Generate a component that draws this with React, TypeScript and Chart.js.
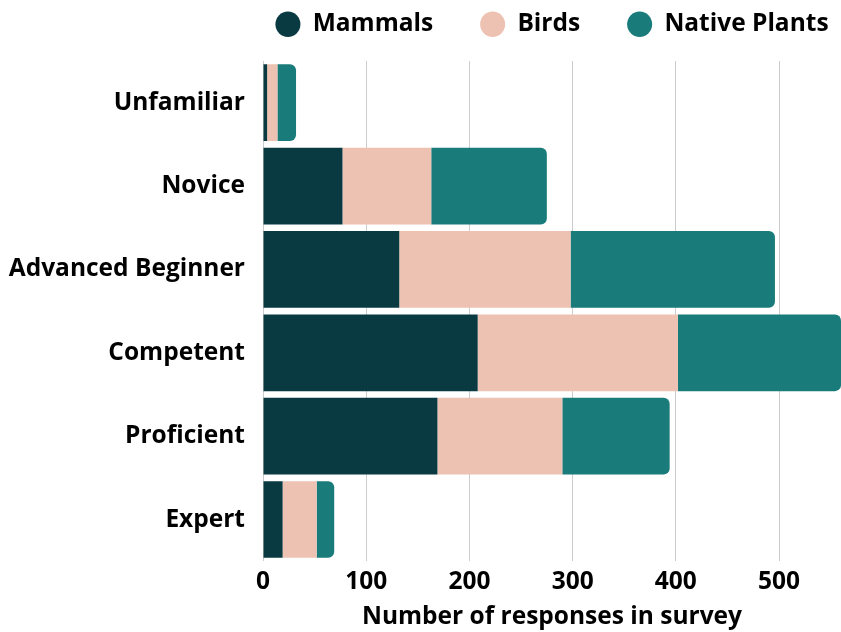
import React, { useEffect, useRef } from "react";
import { Chart, registerables } from "chart.js";

Chart.register(...registerables);

const categories = ["Unfamiliar", "Novice", "Advanced Beginner", "Competent", "Proficient", "Expert"];
const mammals = [4, 77, 132, 208, 169, 19];
const birds = [10, 86, 166, 194, 121, 33];
const nativePlants = [18, 112, 198, 158, 104, 17];
const xTicks = [0, 100, 200, 300, 400, 500];
const xTitle = "Number of responses in survey";

const LEGEND_TOP = -35;
const CHART_TOP = 61;

const legendFix = {
  id: "legendFix",
  beforeLayout(chart: any) {
    const lg = chart.legend;
    if (lg && !lg._patched) {
      const f = lg.fit.bind(lg);
      lg.fit = () => {
        const mw = lg.maxWidth;
        lg.maxWidth = 3000;
        f();
        lg.maxWidth = mw;
        lg.width = mw;
        lg.height = CHART_TOP - LEGEND_TOP;
      };
      lg._patched = true;
    }
  },
  afterLayout(chart: any) {
    const lg = chart.legend;
    if (lg) {
      // widen the legend's drawing span symmetrically so one row fits
      const c = (lg.left + lg.right) / 2;
      lg.left = c - 328;
      lg.right = c + 328;
    }
  },
};

export default function App() {
  const ref = useRef<HTMLCanvasElement | null>(null);
  useEffect(() => {
    document.body.style.margin = "0";
    const font = { family: "'Open Sans'", weight: "bold" as const, size: 24.5 };
    const chart = new Chart(ref.current!, {
      type: "bar",
      data: {
        labels: categories,
        datasets: [
          { label: "Mammals", data: mammals, backgroundColor: "#093a41", borderSkipped: false, borderRadius: 0 },
          { label: "Birds", data: birds, backgroundColor: "#eec2b2", borderSkipped: false, borderRadius: 0 },
          {
            label: "Native Plants",
            data: nativePlants,
            backgroundColor: "#1a7b7b",
            borderSkipped: false,
            borderRadius: { topLeft: 0, bottomLeft: 0, topRight: 6, bottomRight: 6 },
          },
        ],
      },
      plugins: [legendFix],
      options: {
        indexAxis: "y",
        animation: false,
        responsive: false,
        maintainAspectRatio: false,
        layout: { padding: { left: 0, right: 0, top: LEGEND_TOP, bottom: 0 } },
        datasets: { bar: { barPercentage: 0.92, categoryPercentage: 1 } },
        plugins: {
          legend: {
            position: "top",
            fullSize: false,
            labels: {
              usePointStyle: true,
              pointStyle: "circle",
              pointStyleWidth: 25,
              boxWidth: 25,
              boxHeight: 18,
              padding: 47,
              color: "#000",
              font,
            },
          },
          tooltip: { enabled: false },
        },
        scales: {
          x: {
            stacked: true,
            min: 0,
            max: 560,
            afterBuildTicks: (axis: any) => {
              axis.ticks = xTicks.map((v) => ({ value: v }));
            },
            grid: { color: "#cccccc", drawTicks: false },
            border: { display: false },
            ticks: { color: "#000", font, padding: 6 },
            title: { display: true, text: xTitle, color: "#000", font, padding: { top: 0, bottom: 0 } },
          },
          y: {
            stacked: true,
            grid: { display: false },
            border: { display: false },
            ticks: { color: "#000", font, padding: 10 },
            afterFit: (axis: any) => {
              axis.width = 263;
            },
          },
        },
      },
    });
    return () => chart.destroy();
  }, []);
  return <canvas ref={ref} width={841} height={632} style={{ display: "block" }} />;
}
